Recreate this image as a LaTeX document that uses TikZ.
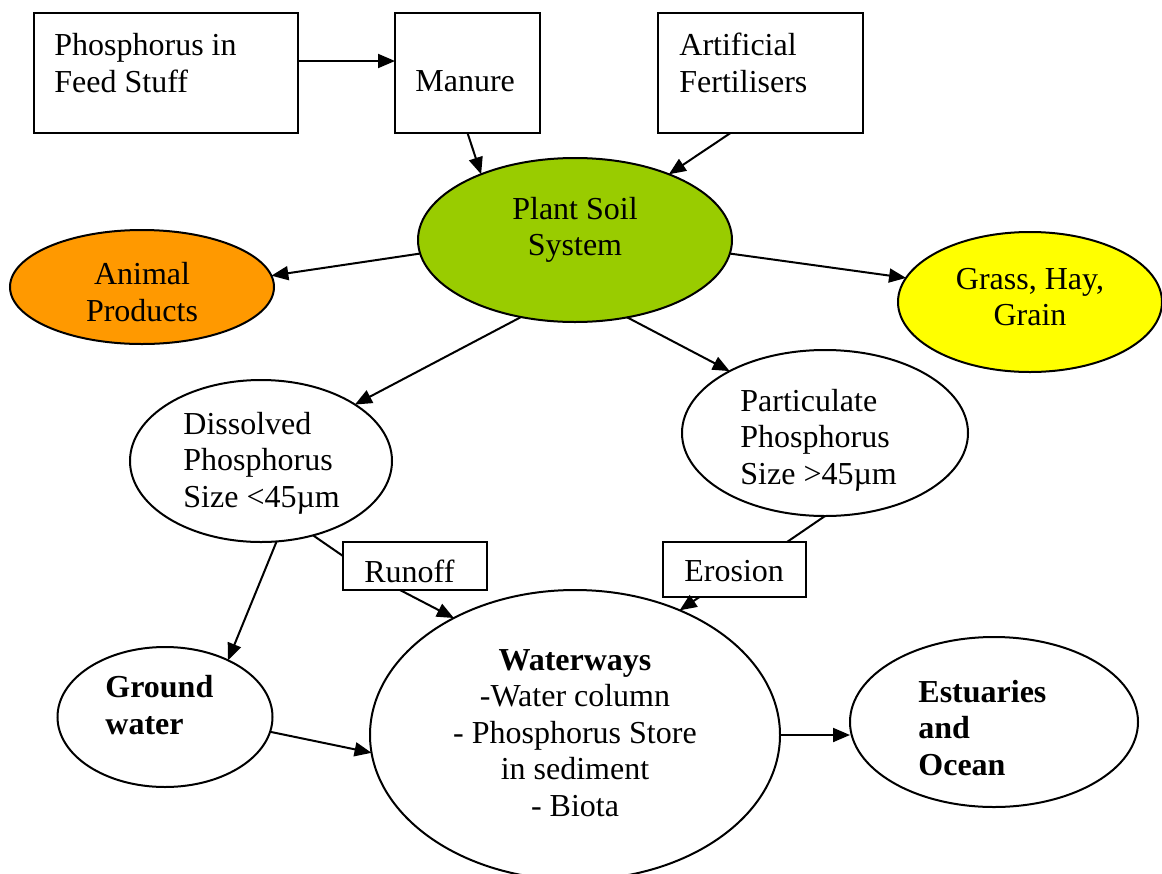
\documentclass[tikz,border=0pt]{standalone}
\usepackage{fontspec}
\setmainfont{Liberation Serif}
\usetikzlibrary{shapes.geometric,arrows.meta,calc}
\definecolor{soilgreen}{HTML}{99CC00}
\definecolor{animalorange}{HTML}{FF9900}
\definecolor{grainyellow}{HTML}{FFFF00}
\begin{document}
\begin{tikzpicture}[x=0.5pt,y=-0.5pt,
  every node/.style={font=\fontsize{16pt}{18.3pt}\selectfont},
  box/.style={draw, line width=1pt, rectangle, inner sep=0pt, outer sep=0pt},
  blob/.style={draw, line width=1pt, ellipse, inner sep=0pt, outer sep=0pt},
  txt/.style={inner sep=0pt, align=left, anchor=west},
  ctxt/.style={inner sep=0pt, align=center},
  flow/.style={line width=1pt, -{Triangle[length=8.5pt,width=7pt]}},
  link/.style={line width=1pt}]
\clip (0,0) rectangle (1162,873);

% sources
\node[box, minimum width=132pt, minimum height=60pt] (feed) at (166,73) {};
\node[txt] (feedtxt) at (54,63) {Phosphorus in\\Feed Stuff};
\node[box, minimum width=72.5pt, minimum height=60pt] (manure) at (467.5,73) {};
\node[txt] (manuretxt) at (415,81) {Manure};
\node[box, minimum width=102.5pt, minimum height=60pt] (fert) at (760.5,73) {};
\node[txt] (ferttxt) at (679,63) {Artificial\\Fertilisers};

% plant soil system and its outputs
\node[blob, fill=soilgreen, minimum width=157pt, minimum height=82pt] (plant) at (575,240) {};
\node[ctxt] (planttxt) at (575,230) {Plant Soil\\System};
\node[blob, fill=animalorange, minimum width=132pt, minimum height=57pt] (animal) at (142,287) {};
\node[ctxt] (animaltxt) at (142,292) {Animal\\Products};
\node[blob, fill=grainyellow, minimum width=132pt, minimum height=70pt] (grass) at (1030,302) {};
\node[ctxt] (grasstxt) at (1030,297) {Grass, Hay,\\Grain};

% phosphorus fractions
\node[blob, minimum width=131pt, minimum height=81pt] (diss) at (261,461) {};
\node[txt] (disstxt) at (183,463) {Dissolved\\Phosphorus\\Size <45µm};
\node[blob, minimum width=143pt, minimum height=83pt] (part) at (825,433) {};
\node[txt] (parttxt) at (740,440) {Particulate\\Phosphorus\\Size >45µm};

% transport labels
\node[box, minimum width=72pt, minimum height=24pt] (runoff) at (415,566) {};
\node[txt] (runofftxt) at (364,571) {Runoff};
\node[box, minimum width=71.5pt, minimum height=27.5pt] (erosion) at (734.5,569.5) {};
\node[txt] (erosiontxt) at (684,571) {Erosion};

% receiving waters
\node[blob, minimum width=107.5pt, minimum height=70pt] (ground) at (165,717) {};
\node[txt, font=\fontsize{16pt}{18.3pt}\selectfont\bfseries] (groundtxt) at (105,705) {Ground\\water};
\node[blob, minimum width=205pt, minimum height=145pt] (water) at (575,735) {};
\node[ctxt] (watertxt) at (575,733) {\textbf{Waterways}\\-Water column\\- Phosphorus Store\\in sediment\\- Biota};
\node[blob, minimum width=144pt, minimum height=85pt] (estuary) at (994,722) {};
\node[txt, font=\fontsize{16pt}{18.3pt}\selectfont\bfseries] (estuarytxt) at (918,728) {Estuaries\\and\\Ocean};

% flows
\draw[flow] ($(feed.east)+(0,-12)$) -- ($(manure.west)+(0,-12)$);
\draw[flow] (manure.south) -- (plant.145);
\draw[flow] ($(fert.south)+(-30,0)$) -- (plant.35);
\draw[flow] (plant.185) -- (animal.5);
\draw[flow] (plant.-5) -- (grass.169);
\draw[flow] (plant.235) -- (diss.31);
\draw[flow] (plant.304) -- (part.147);
\draw[link] (diss.305) -- ($(runoff.west)+(0,-10)$);
\draw[flow] ($(runoff.south)+(-15,0)$) -- (water.136);
\draw[link] (part.south) -- ($(erosion.north east)+(-19,0)$);
\draw[flow] ($(erosion.south)+(-35,0)$) -- (water.50);
\draw[flow] (diss.281) -- (ground.42);
\draw[flow] (ground.-8) -- (water.185);
\draw[flow] (water.east) -- (water.east -| estuary.west);
\end{tikzpicture}
\end{document}
